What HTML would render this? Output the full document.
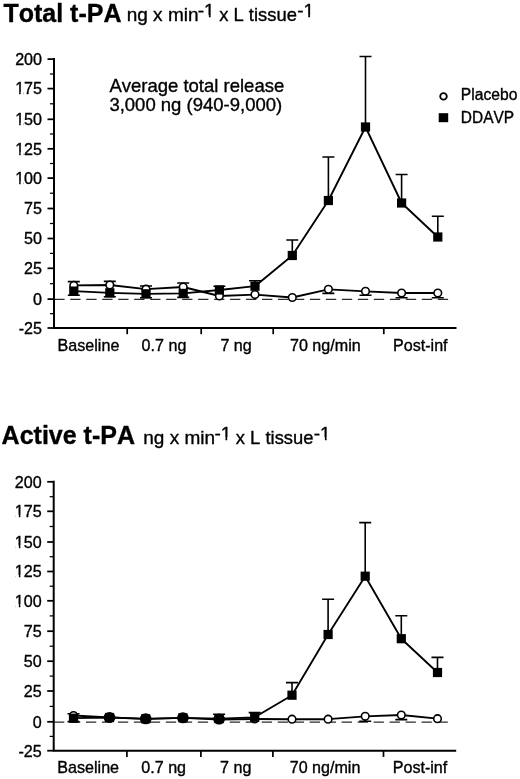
<!DOCTYPE html>
<html lang="en"><head><meta charset="utf-8"><title>t-PA release</title>
<style>html,body{margin:0;padding:0;background:#fff}body{width:520px;height:779px;overflow:hidden}svg{display:block}text{font-family:'Liberation Sans', Arial, Helvetica, sans-serif;font-kerning:none;fill:#000;stroke:#000;stroke-width:0.35px;stroke-linejoin:round}</style>
</head><body>
<svg width="520" height="779" viewBox="0 0 520 779">
<rect width="520" height="779" fill="#fff"/>
<text x="3.4" y="21.9" font-size="25" font-weight="bold">Total t-PA</text>
<text x="126.7" y="21.4" font-size="19">ng x min</text>
<clipPath id="c1"><path d="M195.80 -1.60H220.60V14.88H210.59V19.40H208.91V14.88H195.80Z"/></clipPath>
<text x="197.8" y="17.4" font-size="19" clip-path="url(#c1)">-1</text>
<text x="219.2" y="21.4" font-size="18.4">x L tissue</text>
<clipPath id="c2"><path d="M295.20 -1.60H320.00V14.88H309.99V19.40H308.31V14.88H295.20Z"/></clipPath>
<text x="297.2" y="17.4" font-size="19" clip-path="url(#c2)">-1</text>
<line x1="54.3" y1="299.4" x2="449.5" y2="299.4" stroke="#2b2b2b" stroke-width="1.1" stroke-dasharray="10.3 5.68"/>
<path d="M54 58.1V328.0H456.5" fill="none" stroke="#000" stroke-width="2" stroke-linejoin="miter"/>
<line x1="47.5" y1="59.1" x2="54" y2="59.1" stroke="#000" stroke-width="1.75"/>
<text x="15.14" y="64.8" font-size="16.1">200</text>
<line x1="47.5" y1="88.6" x2="54" y2="88.6" stroke="#000" stroke-width="1.75"/>
<clipPath id="c3"><path clip-rule="evenodd" d="M13.14 78.25H44.00V97.35H13.14ZM15.94 92.05V96.35H19.18V92.05ZM20.61 92.05V96.35H23.67V92.05Z"/></clipPath>
<text x="15.14" y="94.3" font-size="16.1" clip-path="url(#c3)">175</text>
<line x1="47.5" y1="119.3" x2="54" y2="119.3" stroke="#000" stroke-width="1.75"/>
<clipPath id="c4"><path clip-rule="evenodd" d="M13.14 108.95H44.00V128.05H13.14ZM15.94 122.75V127.05H19.18V122.75ZM20.61 122.75V127.05H23.67V122.75Z"/></clipPath>
<text x="15.14" y="125.0" font-size="16.1" clip-path="url(#c4)">150</text>
<line x1="47.5" y1="148.8" x2="54" y2="148.8" stroke="#000" stroke-width="1.75"/>
<clipPath id="c5"><path clip-rule="evenodd" d="M13.14 138.45H44.00V157.55H13.14ZM15.94 152.25V156.55H19.18V152.25ZM20.61 152.25V156.55H23.67V152.25Z"/></clipPath>
<text x="15.14" y="154.6" font-size="16.1" clip-path="url(#c5)">125</text>
<line x1="47.5" y1="178.1" x2="54" y2="178.1" stroke="#000" stroke-width="1.75"/>
<clipPath id="c6"><path clip-rule="evenodd" d="M13.14 167.75H44.00V186.85H13.14ZM15.94 181.55V185.85H19.18V181.55ZM20.61 181.55V185.85H23.67V181.55Z"/></clipPath>
<text x="15.14" y="183.8" font-size="16.1" clip-path="url(#c6)">100</text>
<line x1="47.5" y1="208.5" x2="54" y2="208.5" stroke="#000" stroke-width="1.75"/>
<text x="24.09" y="214.2" font-size="16.1">75</text>
<line x1="47.5" y1="238.5" x2="54" y2="238.5" stroke="#000" stroke-width="1.75"/>
<text x="24.09" y="244.2" font-size="16.1">50</text>
<line x1="47.5" y1="268.3" x2="54" y2="268.3" stroke="#000" stroke-width="1.75"/>
<text x="24.09" y="274.1" font-size="16.1">25</text>
<line x1="47.5" y1="299.1" x2="54" y2="299.1" stroke="#000" stroke-width="1.75"/>
<text x="33.05" y="304.9" font-size="16.1">0</text>
<line x1="47.5" y1="328.0" x2="54" y2="328.0" stroke="#000" stroke-width="1.75"/>
<text x="18.73" y="333.8" font-size="16.1">-25</text>
<line x1="50" y1="74.0" x2="54" y2="74.0" stroke="#000" stroke-width="1.25"/>
<line x1="50" y1="103.8" x2="54" y2="103.8" stroke="#000" stroke-width="1.25"/>
<line x1="50" y1="134.0" x2="54" y2="134.0" stroke="#000" stroke-width="1.25"/>
<line x1="50" y1="163.5" x2="54" y2="163.5" stroke="#000" stroke-width="1.25"/>
<line x1="50" y1="193.2" x2="54" y2="193.2" stroke="#000" stroke-width="1.25"/>
<line x1="50" y1="223.5" x2="54" y2="223.5" stroke="#000" stroke-width="1.25"/>
<line x1="50" y1="253.4" x2="54" y2="253.4" stroke="#000" stroke-width="1.25"/>
<line x1="50" y1="283.7" x2="54" y2="283.7" stroke="#000" stroke-width="1.25"/>
<line x1="50" y1="313.7" x2="54" y2="313.7" stroke="#000" stroke-width="1.25"/>
<line x1="127.2" y1="328.0" x2="127.2" y2="334.2" stroke="#000" stroke-width="1.7"/>
<line x1="201.2" y1="328.0" x2="201.2" y2="334.2" stroke="#000" stroke-width="1.7"/>
<line x1="273.2" y1="328.0" x2="273.2" y2="334.2" stroke="#000" stroke-width="1.7"/>
<line x1="383.8" y1="328.0" x2="383.8" y2="334.2" stroke="#000" stroke-width="1.7"/>
<text x="57.6" y="350.5" font-size="16.1">Baseline</text>
<text x="141.6" y="350.5" font-size="16.1">0.7 ng</text>
<text x="220.4" y="350.5" font-size="16.1">7 ng</text>
<text x="290.0" y="350.5" font-size="16.1">70 ng/min</text>
<text x="393.0" y="350.5" font-size="16.1">Post-inf</text>
<path d="M73.8 285.4V281.6M67.8 281.6H79.8" fill="none" stroke="#000" stroke-width="1.6"/>
<path d="M109.8 285.0V281.4M103.8 281.4H115.8" fill="none" stroke="#000" stroke-width="1.6"/>
<path d="M146.0 289.2V286.0M140.0 286.0H152.0" fill="none" stroke="#000" stroke-width="1.6"/>
<path d="M183.2 287.0V283.0M177.2 283.0H189.2" fill="none" stroke="#000" stroke-width="1.6"/>
<path d="M328.4 289.3V293.4M322.4 293.4H334.4" fill="none" stroke="#000" stroke-width="1.6"/>
<path d="M365.5 291.3V295.3M359.5 295.3H371.5" fill="none" stroke="#000" stroke-width="1.6"/>
<path d="M401.6 293.0V297.8M395.6 297.8H407.6" fill="none" stroke="#000" stroke-width="1.6"/>
<path d="M437.8 293.0V297.8M431.8 297.8H443.8" fill="none" stroke="#000" stroke-width="1.6"/>
<polyline fill="none" stroke="#000" stroke-width="1.85" stroke-linejoin="round" points="73.8,285.4 109.8,285.0 146.0,289.2 183.2,287.0 219.4,296.0 255.0,294.6 292.3,297.5 328.4,289.3 365.5,291.3 401.6,293.0 437.8,293.0"/>
<circle cx="73.8" cy="285.4" r="3.8" fill="#fff" stroke="#000" stroke-width="1.6"/>
<circle cx="109.8" cy="285.0" r="3.8" fill="#fff" stroke="#000" stroke-width="1.6"/>
<circle cx="146.0" cy="289.2" r="3.8" fill="#fff" stroke="#000" stroke-width="1.6"/>
<circle cx="183.2" cy="287.0" r="3.8" fill="#fff" stroke="#000" stroke-width="1.6"/>
<circle cx="219.4" cy="296.0" r="3.8" fill="#fff" stroke="#000" stroke-width="1.6"/>
<circle cx="255.0" cy="294.6" r="3.8" fill="#fff" stroke="#000" stroke-width="1.6"/>
<circle cx="292.3" cy="297.5" r="3.8" fill="#fff" stroke="#000" stroke-width="1.6"/>
<circle cx="328.4" cy="289.3" r="3.8" fill="#fff" stroke="#000" stroke-width="1.6"/>
<circle cx="365.5" cy="291.3" r="3.8" fill="#fff" stroke="#000" stroke-width="1.6"/>
<circle cx="401.6" cy="293.0" r="3.8" fill="#fff" stroke="#000" stroke-width="1.6"/>
<circle cx="437.8" cy="293.0" r="3.8" fill="#fff" stroke="#000" stroke-width="1.6"/>
<path d="M73.8 291.1V295.3M67.8 295.3H79.8" fill="none" stroke="#000" stroke-width="1.6"/>
<path d="M109.8 292.8V296.8M103.8 296.8H115.8" fill="none" stroke="#000" stroke-width="1.6"/>
<path d="M146.0 293.8V297.7M140.0 297.7H152.0" fill="none" stroke="#000" stroke-width="1.6"/>
<path d="M183.2 293.4V297.4M177.2 297.4H189.2" fill="none" stroke="#000" stroke-width="1.6"/>
<path d="M219.4 290.0V286.3M213.4 286.3H225.4" fill="none" stroke="#000" stroke-width="1.6"/>
<path d="M255.0 286.2V280.8M249.0 280.8H261.0" fill="none" stroke="#000" stroke-width="1.6"/>
<path d="M292.3 255.5V240.0M286.3 240.0H298.3" fill="none" stroke="#000" stroke-width="1.6"/>
<path d="M328.4 200.5V157.0M322.4 157.0H334.4" fill="none" stroke="#000" stroke-width="1.6"/>
<path d="M365.5 127.0V56.5M359.5 56.5H371.5" fill="none" stroke="#000" stroke-width="1.6"/>
<path d="M401.6 203.0V174.5M395.6 174.5H407.6" fill="none" stroke="#000" stroke-width="1.6"/>
<path d="M437.8 237.0V216.3M431.8 216.3H443.8" fill="none" stroke="#000" stroke-width="1.6"/>
<polyline fill="none" stroke="#000" stroke-width="1.85" stroke-linejoin="round" points="73.8,291.1 109.8,292.8 146.0,293.8 183.2,293.4 219.4,290.0 255.0,286.2 292.3,255.5 328.4,200.5 365.5,127.0 401.6,203.0 437.8,237.0"/>
<rect x="69.2" y="286.5" width="9.2" height="9.2" fill="#000"/>
<rect x="105.2" y="288.2" width="9.2" height="9.2" fill="#000"/>
<rect x="141.4" y="289.2" width="9.2" height="9.2" fill="#000"/>
<rect x="178.6" y="288.8" width="9.2" height="9.2" fill="#000"/>
<rect x="214.8" y="285.4" width="9.2" height="9.2" fill="#000"/>
<rect x="250.4" y="281.6" width="9.2" height="9.2" fill="#000"/>
<rect x="287.7" y="250.9" width="9.2" height="9.2" fill="#000"/>
<rect x="323.8" y="195.9" width="9.2" height="9.2" fill="#000"/>
<rect x="360.9" y="122.4" width="9.2" height="9.2" fill="#000"/>
<rect x="397.0" y="198.4" width="9.2" height="9.2" fill="#000"/>
<rect x="433.2" y="232.4" width="9.2" height="9.2" fill="#000"/>
<text x="109.4" y="92" font-size="18.5">Average total release</text>
<text x="109.4" y="110.7" font-size="18.5">3,000 ng (940-9,000)</text>
<circle cx="443.5" cy="96.4" r="3.3" fill="#fff" stroke="#000" stroke-width="1.8"/>
<rect x="438.7" y="113.2" width="9.5" height="9" fill="#000"/>
<text x="460.8" y="99.9" font-size="15.6" textLength="56.6" lengthAdjust="spacingAndGlyphs">Placebo</text>
<text x="460.8" y="122.5" font-size="15.6" textLength="53.3" lengthAdjust="spacingAndGlyphs">DDAVP</text>
<text x="1.6" y="444.2" font-size="25" font-weight="bold">Active t-PA</text>
<text x="143.3" y="443.8" font-size="19">ng x min</text>
<clipPath id="c7"><path d="M212.40 420.80H237.20V437.28H227.19V441.80H225.51V437.28H212.40Z"/></clipPath>
<text x="214.4" y="439.8" font-size="19" clip-path="url(#c7)">-1</text>
<text x="235.8" y="443.8" font-size="18.4">x L tissue</text>
<clipPath id="c8"><path d="M311.80 420.80H336.60V437.28H326.59V441.80H324.91V437.28H311.80Z"/></clipPath>
<text x="313.8" y="439.8" font-size="19" clip-path="url(#c8)">-1</text>
<g transform="translate(-0.3 0)">
<line x1="54.3" y1="722.1" x2="449.5" y2="722.1" stroke="#2b2b2b" stroke-width="1.1" stroke-dasharray="10.3 5.68"/>
<path d="M54 480.8V750.7H456.5" fill="none" stroke="#000" stroke-width="2" stroke-linejoin="miter"/>
<line x1="47.5" y1="481.8" x2="54" y2="481.8" stroke="#000" stroke-width="1.75"/>
<text x="15.14" y="487.6" font-size="16.1">200</text>
<line x1="47.5" y1="511.3" x2="54" y2="511.3" stroke="#000" stroke-width="1.75"/>
<clipPath id="c9"><path clip-rule="evenodd" d="M13.14 500.95H44.00V520.05H13.14ZM15.94 514.75V519.05H19.18V514.75ZM20.61 514.75V519.05H23.67V514.75Z"/></clipPath>
<text x="15.14" y="517.0" font-size="16.1" clip-path="url(#c9)">175</text>
<line x1="47.5" y1="542.0" x2="54" y2="542.0" stroke="#000" stroke-width="1.75"/>
<clipPath id="c10"><path clip-rule="evenodd" d="M13.14 531.65H44.00V550.75H13.14ZM15.94 545.45V549.75H19.18V545.45ZM20.61 545.45V549.75H23.67V545.45Z"/></clipPath>
<text x="15.14" y="547.8" font-size="16.1" clip-path="url(#c10)">150</text>
<line x1="47.5" y1="571.5" x2="54" y2="571.5" stroke="#000" stroke-width="1.75"/>
<clipPath id="c11"><path clip-rule="evenodd" d="M13.14 561.15H44.00V580.25H13.14ZM15.94 574.95V579.25H19.18V574.95ZM20.61 574.95V579.25H23.67V574.95Z"/></clipPath>
<text x="15.14" y="577.2" font-size="16.1" clip-path="url(#c11)">125</text>
<line x1="47.5" y1="600.8" x2="54" y2="600.8" stroke="#000" stroke-width="1.75"/>
<clipPath id="c12"><path clip-rule="evenodd" d="M13.14 590.45H44.00V609.55H13.14ZM15.94 604.25V608.55H19.18V604.25ZM20.61 604.25V608.55H23.67V604.25Z"/></clipPath>
<text x="15.14" y="606.5" font-size="16.1" clip-path="url(#c12)">100</text>
<line x1="47.5" y1="631.2" x2="54" y2="631.2" stroke="#000" stroke-width="1.75"/>
<text x="24.09" y="637.0" font-size="16.1">75</text>
<line x1="47.5" y1="661.2" x2="54" y2="661.2" stroke="#000" stroke-width="1.75"/>
<text x="24.09" y="667.0" font-size="16.1">50</text>
<line x1="47.5" y1="691.0" x2="54" y2="691.0" stroke="#000" stroke-width="1.75"/>
<text x="24.09" y="696.8" font-size="16.1">25</text>
<line x1="47.5" y1="721.8" x2="54" y2="721.8" stroke="#000" stroke-width="1.75"/>
<text x="33.05" y="727.5" font-size="16.1">0</text>
<line x1="47.5" y1="750.7" x2="54" y2="750.7" stroke="#000" stroke-width="1.75"/>
<text x="18.73" y="756.5" font-size="16.1">-25</text>
<line x1="50" y1="496.7" x2="54" y2="496.7" stroke="#000" stroke-width="1.25"/>
<line x1="50" y1="526.5" x2="54" y2="526.5" stroke="#000" stroke-width="1.25"/>
<line x1="50" y1="556.7" x2="54" y2="556.7" stroke="#000" stroke-width="1.25"/>
<line x1="50" y1="586.2" x2="54" y2="586.2" stroke="#000" stroke-width="1.25"/>
<line x1="50" y1="615.9" x2="54" y2="615.9" stroke="#000" stroke-width="1.25"/>
<line x1="50" y1="646.2" x2="54" y2="646.2" stroke="#000" stroke-width="1.25"/>
<line x1="50" y1="676.1" x2="54" y2="676.1" stroke="#000" stroke-width="1.25"/>
<line x1="50" y1="706.4" x2="54" y2="706.4" stroke="#000" stroke-width="1.25"/>
<line x1="50" y1="736.4" x2="54" y2="736.4" stroke="#000" stroke-width="1.25"/>
<line x1="127.2" y1="750.7" x2="127.2" y2="756.9" stroke="#000" stroke-width="1.7"/>
<line x1="201.2" y1="750.7" x2="201.2" y2="756.9" stroke="#000" stroke-width="1.7"/>
<line x1="273.2" y1="750.7" x2="273.2" y2="756.9" stroke="#000" stroke-width="1.7"/>
<line x1="383.8" y1="750.7" x2="383.8" y2="756.9" stroke="#000" stroke-width="1.7"/>
<text x="57.6" y="772.7" font-size="16.1">Baseline</text>
<text x="141.6" y="772.7" font-size="16.1">0.7 ng</text>
<text x="220.4" y="772.7" font-size="16.1">7 ng</text>
<text x="290.0" y="772.7" font-size="16.1">70 ng/min</text>
<text x="393.0" y="772.7" font-size="16.1">Post-inf</text>
<path d="M73.8 715.5V713.8M67.8 713.8H79.8" fill="none" stroke="#000" stroke-width="1.6"/>
<path d="M365.5 716.3V721.2M359.5 721.2H371.5" fill="none" stroke="#000" stroke-width="1.6"/>
<path d="M401.6 715.0V719.6M395.6 719.6H407.6" fill="none" stroke="#000" stroke-width="1.6"/>
<polyline fill="none" stroke="#000" stroke-width="1.85" stroke-linejoin="round" points="73.8,715.5 109.8,717.3 146.0,718.8 183.2,717.8 219.4,719.6 255.0,719.0 292.3,719.2 328.4,719.2 365.5,716.3 401.6,715.0 437.8,718.7"/>
<circle cx="73.8" cy="715.5" r="3.8" fill="#fff" stroke="#000" stroke-width="1.6"/>
<circle cx="109.8" cy="717.3" r="3.8" fill="#fff" stroke="#000" stroke-width="1.6"/>
<circle cx="146.0" cy="718.8" r="3.8" fill="#fff" stroke="#000" stroke-width="1.6"/>
<circle cx="183.2" cy="717.8" r="3.8" fill="#fff" stroke="#000" stroke-width="1.6"/>
<circle cx="219.4" cy="719.6" r="3.8" fill="#fff" stroke="#000" stroke-width="1.6"/>
<circle cx="255.0" cy="719.0" r="3.8" fill="#fff" stroke="#000" stroke-width="1.6"/>
<circle cx="292.3" cy="719.2" r="3.8" fill="#fff" stroke="#000" stroke-width="1.6"/>
<circle cx="328.4" cy="719.2" r="3.8" fill="#fff" stroke="#000" stroke-width="1.6"/>
<circle cx="365.5" cy="716.3" r="3.8" fill="#fff" stroke="#000" stroke-width="1.6"/>
<circle cx="401.6" cy="715.0" r="3.8" fill="#fff" stroke="#000" stroke-width="1.6"/>
<circle cx="437.8" cy="718.7" r="3.8" fill="#fff" stroke="#000" stroke-width="1.6"/>
<path d="M73.8 718.2V721.6M67.8 721.6H79.8" fill="none" stroke="#000" stroke-width="1.6"/>
<path d="M219.4 718.6V714.2M213.4 714.2H225.4" fill="none" stroke="#000" stroke-width="1.6"/>
<path d="M255.0 717.3V712.6M249.0 712.6H261.0" fill="none" stroke="#000" stroke-width="1.6"/>
<path d="M292.3 695.2V682.6M286.3 682.6H298.3" fill="none" stroke="#000" stroke-width="1.6"/>
<path d="M328.4 634.5V599.2M322.4 599.2H334.4" fill="none" stroke="#000" stroke-width="1.6"/>
<path d="M365.5 576.2V522.6M359.5 522.6H371.5" fill="none" stroke="#000" stroke-width="1.6"/>
<path d="M401.6 638.7V615.7M395.6 615.7H407.6" fill="none" stroke="#000" stroke-width="1.6"/>
<path d="M437.8 672.5V657.4M431.8 657.4H443.8" fill="none" stroke="#000" stroke-width="1.6"/>
<polyline fill="none" stroke="#000" stroke-width="1.85" stroke-linejoin="round" points="73.8,718.2 109.8,717.5 146.0,718.8 183.2,717.8 219.4,718.6 255.0,717.3 292.3,695.2 328.4,634.5 365.5,576.2 401.6,638.7 437.8,672.5"/>
<ellipse cx="109.8" cy="717.4" rx="5.9" ry="5.5" fill="#000"/>
<ellipse cx="146.0" cy="718.8" rx="5.9" ry="5.5" fill="#000"/>
<ellipse cx="183.2" cy="717.8" rx="5.9" ry="5.5" fill="#000"/>
<ellipse cx="219.4" cy="719.1" rx="5.9" ry="5.5" fill="#000"/>
<rect x="69.2" y="713.6" width="9.2" height="9.2" fill="#000"/>
<rect x="105.2" y="712.9" width="9.2" height="9.2" fill="#000"/>
<rect x="141.4" y="714.2" width="9.2" height="9.2" fill="#000"/>
<rect x="178.6" y="713.2" width="9.2" height="9.2" fill="#000"/>
<rect x="214.8" y="714.0" width="9.2" height="9.2" fill="#000"/>
<rect x="250.4" y="712.7" width="9.2" height="9.2" fill="#000"/>
<rect x="287.7" y="690.6" width="9.2" height="9.2" fill="#000"/>
<rect x="323.8" y="629.9" width="9.2" height="9.2" fill="#000"/>
<rect x="360.9" y="571.6" width="9.2" height="9.2" fill="#000"/>
<rect x="397.0" y="634.1" width="9.2" height="9.2" fill="#000"/>
<rect x="433.2" y="667.9" width="9.2" height="9.2" fill="#000"/>
</g>
</svg></body></html>
